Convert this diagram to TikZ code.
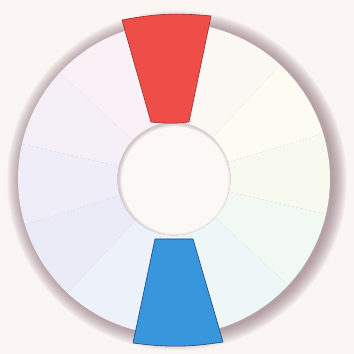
\documentclass[tikz,border=0pt]{standalone}
\usetikzlibrary{calc}
\definecolor{bgc}{RGB}{251,246,244}
\definecolor{shc}{RGB}{125,90,100}
\definecolor{redw}{RGB}{239,78,72}
\definecolor{redb}{RGB}{150,45,45}
\definecolor{bluew}{RGB}{56,150,220}
\definecolor{blueb}{RGB}{30,70,130}
\definecolor{holec}{RGB}{251,248,246}
\definecolor{sA}{RGB}{251,248,244}
\definecolor{sB}{RGB}{252,252,242}
\definecolor{sC}{RGB}{248,250,240}
\definecolor{sD}{RGB}{242,248,242}
\definecolor{sE}{RGB}{238,247,248}
\definecolor{sF}{RGB}{236,244,250}
\definecolor{sG}{RGB}{236,241,250}
\definecolor{sH}{RGB}{235,235,247}
\definecolor{sI}{RGB}{239,238,248}
\definecolor{sJ}{RGB}{245,240,248}
\definecolor{sK}{RGB}{249,241,246}
\definecolor{sL}{RGB}{249,240,243}
\tikzset{
  wedgered/.style={fill=redw, draw=redb, line width=0.6pt, line join=round},
  wedgeblue/.style={fill=bluew, draw=blueb, line width=0.6pt, line join=round},
}
\begin{document}
\begin{tikzpicture}[x=1pt,y=1pt]
\useasboundingbox (0,0) rectangle (354,354);
\fill[bgc] (0,0) rectangle (354,354);
\coordinate (c) at (174,175);
% outer shadow
\foreach \i in {0,...,15}{
  \fill[shc, opacity=0.045] ($(c)+(3,-1.5)$) circle ({170-0.9*\i});
}
% ring segments
\foreach \a/\col in {92/sL,62/sA,32/sB,2/sC,-28/sD,-58/sE,-88/sF,-118/sG,-148/sH,-178/sI,-208/sJ,-238/sK}{
  \fill[\col] ($(c)+(\a-15:156)$) arc[start angle=\a-15, end angle=\a+15, radius=156]
     -- ($(c)+(\a+15:56.5)$) arc[start angle=\a+15, end angle=\a-15, radius=56.5] -- cycle;
}
% inner hole
\fill[holec] (c) circle (56.5);
\begin{scope}
  \clip (c) circle (56.5);
  \foreach \i in {0,...,5}{
    \draw[shc, opacity=0.06, line width={(6-\i)*1.3pt}] ($(c)+(1.2,-1.2)$) circle (57.5);
  }
\end{scope}
% red wedge
\coordinate (rTL) at (122,334);
\coordinate (rTR) at (211,338);
\coordinate (rBR) at (189,232);
\coordinate (rBL) at (151,232);
\draw[wedgered] (rBL) -- (rTL) to[bend left=8] (rTR) -- (rBR) to[bend left=6] cycle;
% blue wedge
\coordinate (bTL) at (155,115);
\coordinate (bTR) at (193,115);
\coordinate (bBR) at (223,12);
\coordinate (bBL) at (133,11);
\draw[wedgeblue] (bTL) -- (bTR) -- (bBR) to[bend left=8] (bBL) -- cycle;
\end{tikzpicture}
\end{document}
